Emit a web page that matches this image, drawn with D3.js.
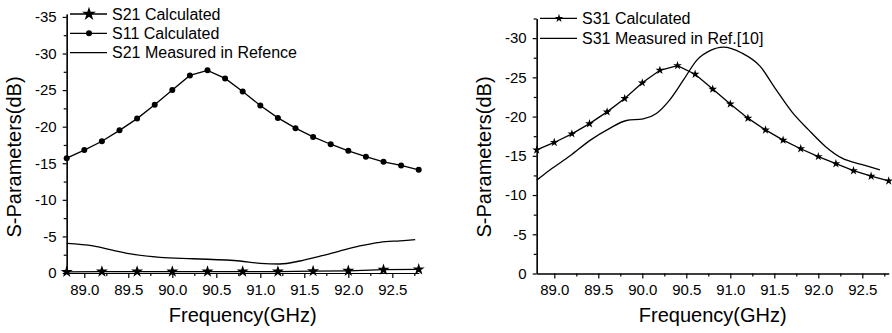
<!DOCTYPE html>
<html>
<head>
<meta charset="utf-8">
<script src="https://cdn.jsdelivr.net/npm/d3@7"></script>
<style>
  body { margin: 0; background: #fff; }
  svg { font-family: "Liberation Sans", Arial, sans-serif; }
</style>
</head>
<body>
<script>
// data
var freqFine = [88.8, 89.0, 89.2, 89.4, 89.6, 89.8, 90.0, 90.2, 90.4, 90.6, 90.8,
                91.0, 91.2, 91.4, 91.6, 91.8, 92.0, 92.2, 92.4, 92.6, 92.8];
var freqCoarse = [88.8, 89.2, 89.6, 90.0, 90.4, 90.8, 91.2, 91.6, 92.0, 92.4, 92.8];

var s11Calc = [-15.7, -16.8, -18.0, -19.5, -21.1, -23.0, -25.0, -27.0, -27.7, -26.6, -24.8,
               -22.9, -21.2, -19.8, -18.6, -17.6, -16.7, -15.9, -15.2, -14.7, -14.1];
var s21Calc = [-0.15, -0.2, -0.2, -0.2, -0.2, -0.2, -0.2, -0.25, -0.3, -0.45, -0.5];

var s21MeasFreq = [88.8, 89.1, 89.33, 89.56, 89.86, 90.24, 90.77, 91.0, 91.22, 91.45,
                   91.68, 91.9, 92.13, 92.36, 92.59, 92.76];
var s21Meas = [-4.05, -3.7, -3.1, -2.55, -2.14, -1.95, -1.64, -1.32, -1.23, -1.64,
               -2.3, -3.0, -3.7, -4.2, -4.4, -4.55];

var s31Calc = [-15.75, -16.7, -17.8, -19.1, -20.6, -22.3, -24.3, -25.9, -26.5, -25.4, -23.5,
               -21.6, -19.8, -18.3, -17.0, -15.9, -14.9, -14.0, -13.1, -12.4, -11.8];
var s31MeasFreq = [88.8, 88.95, 89.18, 89.41, 89.63, 89.82, 90.01, 90.16, 90.31, 90.47, 90.62,
                   90.77, 90.92, 91.13, 91.34, 91.51, 91.70, 91.89, 92.08, 92.27, 92.49, 92.70];
var s31Meas = [-11.9, -13.2, -15.0, -17.0, -18.5, -19.5, -19.7, -20.4, -22.1, -24.7, -27.2,
               -28.4, -28.85, -28.1, -26.4, -23.6, -20.6, -18.3, -16.2, -14.7, -13.9, -13.2];

var xMajor = [89.0, 89.5, 90.0, 90.5, 91.0, 91.5, 92.0, 92.5];
var xMinor = [89.25, 89.75, 90.25, 90.75, 91.25, 91.75, 92.25, 92.75];
var yMajorLeft = [0, -5, -10, -15, -20, -25, -30, -35];
var yMinorLeft = [-2.5, -7.5, -12.5, -17.5, -22.5, -27.5, -32.5];
var yMajorRight = [0, -5, -10, -15, -20, -25, -30];
var yMinorRight = [-2.5, -7.5, -12.5, -17.5, -22.5, -27.5, -32.5];

var w = 892, h = 333;
var svg = d3.select("body").append("svg")
    .attr("width", w)
    .attr("height", h);

function zip(xs, ys) {
    return xs.map(function(d, i){ return [d, ys[i]]; });
}

function panel(opt) {
    var x = d3.scaleLinear().domain([88.8, 92.8]).range([opt.left, opt.left + 352]);
    var y = d3.scaleLinear().domain(opt.yDomain).range(opt.yRange);
    var g = svg.append("g");

    // minor ticks first, then major axis on top
    g.append("g")
        .attr("transform", "translate(0," + opt.yRange[0] + ")")
        .call(d3.axisBottom(x).tickValues(xMinor).tickSize(3).tickSizeOuter(0).tickFormat(""));
    g.append("g")
        .attr("transform", "translate(" + opt.left + ",0)")
        .call(d3.axisLeft(y).tickValues(opt.yMinor).tickSize(3).tickSizeOuter(0).tickFormat(""));

    g.append("g")
        .attr("transform", "translate(0," + opt.yRange[0] + ")")
        .call(d3.axisBottom(x).tickValues(xMajor).tickSize(5).tickSizeOuter(0)
            .tickPadding(6).tickFormat(d3.format(".1f")));
    g.append("g")
        .attr("transform", "translate(" + opt.left + ",0)")
        .call(d3.axisLeft(y).tickValues(opt.yMajor).tickSize(4).tickSizeOuter(0)
            .tickPadding(6).tickFormat(function(d){ return String(d); }));

    g.selectAll(".tick text").attr("font-size", 15).attr("fill", "#000")
        .attr("font-family", "Liberation Sans, Arial, sans-serif");
    g.selectAll(".domain, .tick line").attr("stroke", "#000").attr("stroke-width", 1.2);

    g.append("text")
        .attr("x", (x.range()[0] + x.range()[1]) / 2)
        .attr("y", 322)
        .attr("text-anchor", "middle")
        .attr("font-size", 20)
        .text("Frequency(GHz)");

    g.append("text")
        .attr("transform", "translate(" + opt.titleX + ",157) rotate(-90)")
        .attr("text-anchor", "middle")
        .attr("font-size", 20)
        .text("S-Parameters(dB)");

    return { g: g, x: x, y: y };
}

function drawLine(p, data, curve) {
    var line = d3.line()
        .x(function(d){ return p.x(d[0]); })
        .y(function(d){ return p.y(d[1]); });
    if (curve) line.curve(curve);
    p.g.append("path")
        .datum(data)
        .attr("d", line)
        .attr("fill", "none")
        .attr("stroke", "#000")
        .attr("stroke-width", 1.3);
}

function drawStars(p, data, size) {
    p.g.selectAll(null)
        .data(data)
        .enter()
        .append("path")
        .attr("d", d3.symbol().type(d3.symbolStar).size(size))
        .attr("transform", function(d){
            return "translate(" + p.x(d[0]) + "," + p.y(d[1]) + ")";
        })
        .attr("fill", "#000");
}

function drawDots(p, data, r) {
    p.g.selectAll(null)
        .data(data)
        .enter()
        .append("circle")
        .attr("cx", function(d){ return p.x(d[0]); })
        .attr("cy", function(d){ return p.y(d[1]); })
        .attr("r", r)
        .attr("fill", "#000");
}

function legend(g, items, x0, y0, dy) {
    items.forEach(function(it, i){
        var yy = y0 + i * dy;
        g.append("line")
            .attr("x1", x0).attr("x2", x0 + 37)
            .attr("y1", yy).attr("y2", yy)
            .attr("stroke", "#000").attr("stroke-width", 1.3);
        if (it.mark == "star") {
            g.append("path")
                .attr("d", d3.symbol().type(d3.symbolStar).size(it.size)())
                .attr("transform", "translate(" + (x0 + 19) + "," + yy + ")");
        } else if (it.mark == "dot") {
            g.append("circle").attr("cx", x0 + 19).attr("cy", yy).attr("r", 3);
        }
        g.append("text")
            .attr("x", x0 + 42)
            .attr("y", yy + 5.7)
            .attr("font-size", 16)
            .text(it.label);
    });
}

// left panel
var left = panel({
    left: 66.7,
    yDomain: [0, -35.4], yRange: [273, 14],
    yMajor: yMajorLeft, yMinor: yMinorLeft,
    titleX: 20.5
});
drawLine(left, zip(s21MeasFreq, s21Meas), d3.curveMonotoneX);
drawLine(left, zip(freqCoarse, s21Calc));
drawStars(left, zip(freqCoarse, s21Calc), 45);
drawLine(left, zip(freqFine, s11Calc));
drawDots(left, zip(freqFine, s11Calc), 3);
legend(left.g, [
    { label: "S21 Calculated", mark: "star", size: 60 },
    { label: "S11 Calculated", mark: "dot" },
    { label: "S21 Measured in Refence" }
], 70, 14, 19.3);

// right panel
var right = panel({
    left: 536.7,
    yDomain: [0, -32.5], yRange: [273.5, 18.5],
    yMajor: yMajorRight, yMinor: yMinorRight,
    titleX: 491
});
drawLine(right, zip(s31MeasFreq, s31Meas), d3.curveMonotoneX);
drawLine(right, zip(freqFine, s31Calc));
drawStars(right, zip(freqFine, s31Calc), 24);
legend(right.g, [
    { label: "S31 Calculated", mark: "star", size: 22 },
    { label: "S31 Measured in Ref.[10]" }
], 540, 18.3, 20);
</script>
</body>
</html>
